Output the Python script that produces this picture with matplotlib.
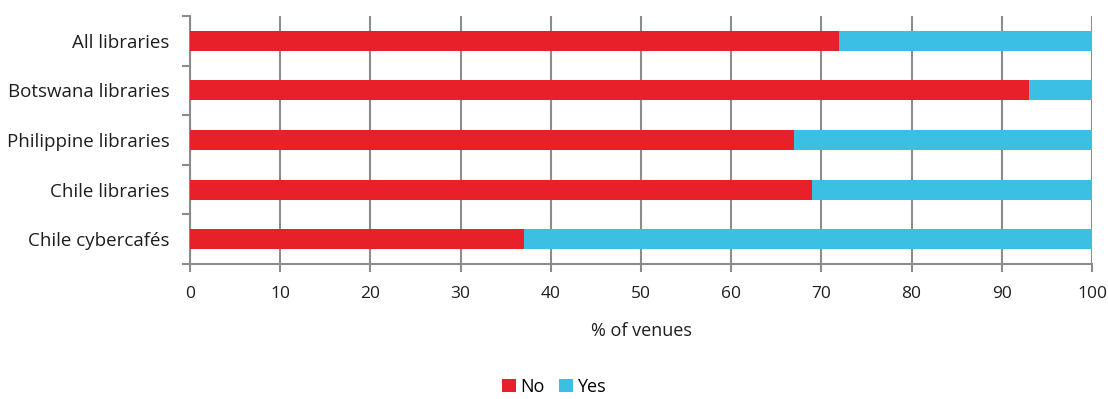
import matplotlib
matplotlib.use("Agg")
import matplotlib.pyplot as plt
from matplotlib.ticker import FixedLocator

plt.rcParams['font.family'] = ['Open Sans', 'DejaVu Sans']

categories = ["All libraries", "Botswana libraries", "Philippine libraries",
              "Chile libraries", "Chile cybercafés"]
no_values = [72, 93, 67, 69, 37]
yes_values = [28, 7, 33, 31, 63]
x_ticks = [0, 10, 20, 30, 40, 50, 60, 70, 80, 90, 100]

red = "#E8202A"
blue = "#3BBFE3"
grid_gray = "#8C8C8C"
text_color = "#1E1E1E"

fig = plt.figure(figsize=(11.08, 3.99), dpi=100)
ax = fig.add_axes([190 / 1108, 1 - 264 / 399, (1092 - 190) / 1108, (264 - 16) / 399])

pos = list(range(len(categories)))
ax.barh(pos, no_values, height=0.4, color=red, label="No", zorder=3)
ax.barh(pos, yes_values, left=no_values, height=0.4, color=blue, label="Yes", zorder=3)

ax.set_xlim(0, 100)
ax.set_ylim(len(categories) - 0.5, -0.5)
ax.set_xticks(x_ticks)
ax.set_xticklabels([str(v) for v in x_ticks], fontsize=12.5, color=text_color)
ax.set_yticks(pos)
ax.set_yticklabels(categories, fontsize=13.5, color=text_color)
ax.yaxis.set_minor_locator(FixedLocator([i - 0.5 for i in range(len(categories) + 1)]))

ax.tick_params(axis="y", which="major", length=0, pad=14.5)
ax.tick_params(axis="y", which="minor", length=6, width=1.5, color=grid_gray, direction="out")
ax.tick_params(axis="x", which="major", length=6, width=1.5, color=grid_gray, pad=10)

ax.grid(axis="x", color=grid_gray, linewidth=1.5, zorder=0)
ax.set_axisbelow(True)

for side in ("top", "right"):
    ax.spines[side].set_visible(False)
for side in ("left", "bottom"):
    ax.spines[side].set_color(grid_gray)
    ax.spines[side].set_linewidth(1.5)

ax.set_xlabel("% of venues", fontsize=13, color=text_color, labelpad=14)

fig.legend(loc="lower center", bbox_to_anchor=(0.5, -0.032), ncol=2, frameon=False,
           fontsize=13, handlelength=0.75, handleheight=0.75, handletextpad=0.25,
           columnspacing=0.8)

fig.savefig("out.png", dpi=100)
